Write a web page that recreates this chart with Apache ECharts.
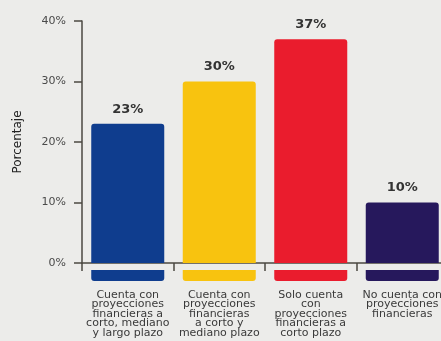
<!DOCTYPE html>
<html>
<head>
<meta charset="utf-8">
<script src="https://cdn.jsdelivr.net/npm/echarts@6/dist/echarts.min.js"></script>
<style>
  html, body { margin: 0; padding: 0; background: #ececea; }
  #chart { width: 441px; height: 341px; }
</style>
</head>
<body>
<div id="chart"></div>
<script>
// Categories (multi-line labels under each bar)
const categories = [
  'Cuenta con\nproyecciones\nfinancieras a\ncorto, mediano\ny largo plazo',
  'Cuenta con\nproyecciones\nfinancieras\na corto y\nmediano plazo',
  'Solo cuenta\ncon\nproyecciones\nfinancieras a\ncorto plazo',
  'No cuenta con\nproyecciones\nfinancieras'
];
// Share of respondents (%)
const values = [23, 30, 37, 10];
// Bar colours, one per category
const barColors = ['#0f3d8e', '#f8c30f', '#ea1c2d', '#26185c'];
// Y axis
const yMin = 0, yMax = 40, yStep = 10;
const yAxisName = 'Porcentaje';

const axisColor = '#4b4842';
const font = 'DejaVu Sans';

// One coloured strip style per category, drawn above the label text
const rich = {
  sp: { fontSize: 6, height: 9, lineHeight: 9, width: 1 },
  t: { fontFamily: font, fontSize: 11, lineHeight: 9.6, color: '#3a3a3a', align: 'center' }
};
barColors.forEach((c, i) => {
  rich['box' + i] = {
    backgroundColor: c, width: 73, height: 11, lineHeight: 11, fontSize: 6,
    borderRadius: [0, 0, 3, 3]
  };
});

const chart = echarts.init(document.getElementById('chart'), null, { renderer: 'canvas' });
chart.setOption({
  backgroundColor: 'transparent',
  animation: false,
  grid: {
    left: 82, width: 366, top: 21, bottom: 78,
    containLabel: false,
    outerBoundsMode: 'none'
  },
  xAxis: {
    type: 'category',
    data: categories,
    boundaryGap: true,
    axisLine: { show: true, lineStyle: { color: axisColor, width: 1.5 } },
    axisTick: { show: true, length: 8, lineStyle: { color: axisColor, width: 1.5 } },
    axisLabel: {
      interval: 0,
      margin: 7,
      formatter: (val, idx) => '{box' + idx + '|}\n{sp|}\n{t|' + val + '}',
      rich: rich
    }
  },
  yAxis: {
    type: 'value',
    min: yMin, max: yMax, interval: yStep,
    name: yAxisName,
    nameLocation: 'middle',
    nameGap: 58,
    nameTextStyle: { fontFamily: font, fontSize: 12, color: '#222222' },
    axisLine: { show: true, lineStyle: { color: axisColor, width: 1.5 } },
    axisTick: { show: true, length: 8, lineStyle: { color: axisColor, width: 1.5 } },
    axisLabel: { formatter: '{value}%', margin: 16, fontFamily: font, fontSize: 11, color: '#4a4a4a' },
    splitLine: { show: false }
  },
  series: [{
    type: 'bar',
    barWidth: 73,
    data: values.map((v, i) => ({
      value: v,
      itemStyle: { color: barColors[i], borderRadius: [3, 3, 0, 0] }
    })),
    label: {
      show: true,
      position: 'top',
      distance: 8,
      formatter: '{c}%',
      fontFamily: font,
      fontSize: 13,
      fontWeight: 'bold',
      color: '#333333'
    }
  }]
});
</script>
</body>
</html>
